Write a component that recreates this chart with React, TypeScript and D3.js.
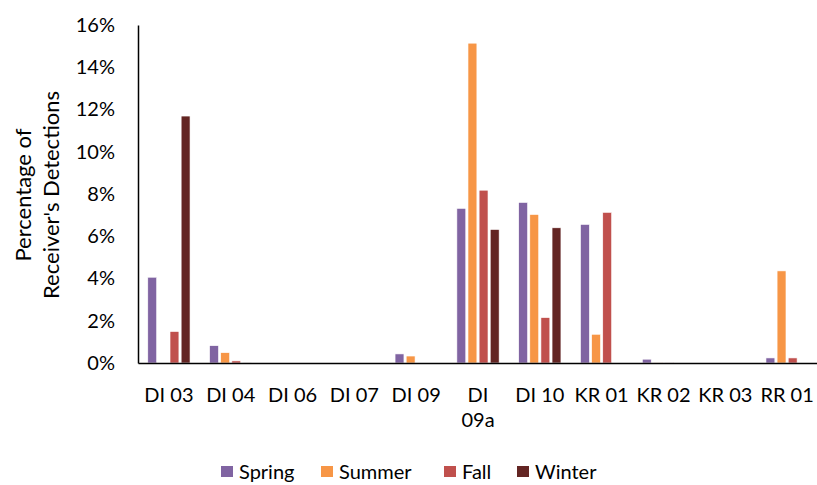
import React, { useEffect, useRef } from 'react';
import * as d3 from 'd3';

const receivers = ['DI 03', 'DI 04', 'DI 06', 'DI 07', 'DI 09', 'DI 09a', 'DI 10', 'KR 01', 'KR 02', 'KR 03', 'RR 01'];
const seasons = ['Spring', 'Summer', 'Fall', 'Winter'];
const spring = [4.06, 0.82, 0, 0, 0.43, 7.32, 7.6, 6.56, 0.18, 0, 0.24];
const summer = [0, 0.49, 0, 0, 0.33, 15.14, 7.03, 1.36, 0.03, 0, 4.36];
const fall = [1.49, 0.1, 0, 0, 0, 8.18, 2.15, 7.13, 0.02, 0, 0.24];
const winter = [11.69, 0.02, 0, 0, 0, 6.32, 6.4, 0, 0, 0, 0];
const yTicks = [0, 2, 4, 6, 8, 10, 12, 14, 16];
const colors = ['#8064A2', '#F79646', '#C0504D', '#632523'];

const FONT = 'Lato, "Open Sans", sans-serif';

export default function App() {
  const svgRef = useRef<SVGSVGElement | null>(null);

  useEffect(() => {
    if (!svgRef.current) return;
    const left = 138;
    const right = 818;
    const top = 25;
    const bottom = 363;

    const svg = d3.select(svgRef.current);
    svg.selectAll('*').remove();

    const series = [spring, summer, fall, winter];

    const x0 = d3.scaleBand<string>().domain(receivers).range([left, right]).padding(0);
    const x1 = d3.scaleBand<string>().domain(seasons).range([0, x0.bandwidth()]).paddingInner(0.2).paddingOuter(0.88);
    const y = d3.scaleLinear().domain([0, 16]).range([bottom, top]);

    // bars
    const groups = svg.append('g')
      .selectAll('g')
      .data(receivers)
      .join('g')
      .attr('transform', (d) => `translate(${x0(d)},0)`);

    groups.selectAll('rect')
      .data((d, i) => seasons.map((s, k) => ({ s, v: series[k][i], c: colors[k] })))
      .join('rect')
      .attr('x', (d) => x1(d.s)!)
      .attr('width', x1.bandwidth())
      .attr('y', (d) => y(d.v))
      .attr('height', (d) => bottom - y(d.v))
      .attr('fill', (d) => d.c)
      .attr('stroke', '#fff')
      .attr('stroke-width', 0.6);

    // y axis
    const yAxis = svg.append('g')
      .attr('transform', `translate(${left},0)`)
      .call(d3.axisLeft(y).tickValues(yTicks).tickSize(0).tickPadding(23).tickFormat((d) => `${d}%`));
    yAxis.select('.domain').attr('stroke', '#000').attr('stroke-width', 1.5);
    yAxis.selectAll('text')
      .attr('font-family', FONT)
      .attr('font-size', 20)
      .attr('fill', '#000');

    // x axis
    const xAxis = svg.append('g')
      .attr('transform', `translate(0,${bottom})`)
      .call(d3.axisBottom(x0).tickSize(0).tickPadding(25));
    xAxis.select('.domain').attr('stroke', '#000').attr('stroke-width', 1.5);
    xAxis.selectAll<SVGTextElement, string>('text')
      .attr('font-family', FONT)
      .attr('font-size', 20)
      .attr('fill', '#000')
      .each(function (d) {
        // long labels wrap onto two lines like the original
        if (d.length > 5) {
          const t = d3.select(this);
          const parts = d.split(' ');
          t.text(null).attr('dy', null);
          parts.forEach((p, i) => {
            t.append('tspan').attr('x', 0).attr('dy', i === 0 ? '0.71em' : '1.25em').text(p);
          });
        }
      });

    // y axis title
    const title = svg.append('text')
      .attr('transform', `translate(23,195) rotate(-90)`)
      .attr('text-anchor', 'middle')
      .attr('font-family', FONT)
      .attr('font-size', 22)
      .attr('fill', '#000');
    title.append('tspan').attr('x', 0).attr('dy', '0.35em').text('Percentage of');
    title.append('tspan').attr('x', 0).attr('dy', '1.27em').text("Receiver's Detections");

    // legend
    const legendX = [221, 321, 444, 517];
    const legend = svg.append('g')
      .selectAll('g')
      .data(seasons)
      .join('g')
      .attr('transform', (d, i) => `translate(${legendX[i]},466)`);
    legend.append('rect').attr('width', 12).attr('height', 11).attr('fill', (d, i) => colors[i]);
    legend.append('text')
      .attr('x', 18)
      .attr('y', 13)
      .attr('font-family', FONT)
      .attr('font-size', 20)
      .attr('fill', '#000')
      .text((d) => d);
  }, []);

  return (
    <svg
      ref={svgRef}
      width={817}
      height={485}
      style={{ position: 'absolute', left: 0, top: 0, background: '#fff' }}
    />
  );
}
